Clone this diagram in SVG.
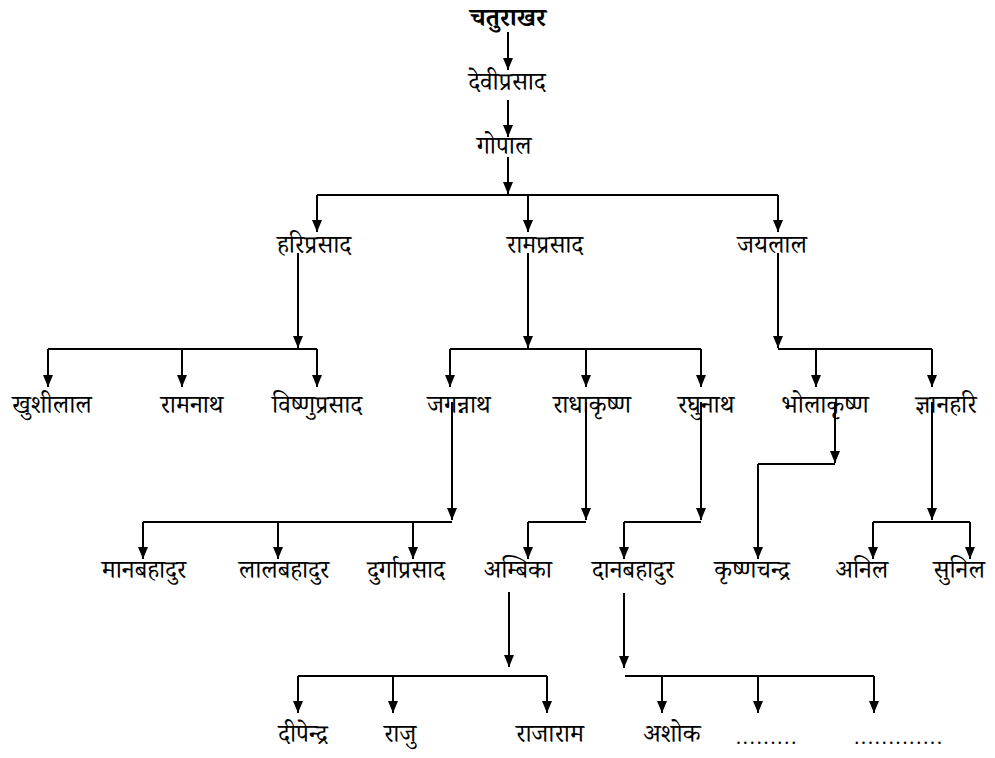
<svg xmlns="http://www.w3.org/2000/svg" width="995" height="758" viewBox="0 0 995 758">
<style>
text{font-family:"Noto Serif Devanagari","Noto Sans Devanagari","Noto Sans","Liberation Serif",serif;font-size:25px;fill:#000;text-anchor:middle}
.b{font-weight:bold}
.d{font-family:"Liberation Serif",serif;font-size:20px;letter-spacing:1.9px}
.c path{fill:none;stroke:#000;stroke-width:2}
.c .a{marker-end:url(#ah)}
</style>
<defs>
<marker id="ah" viewBox="0 0 12 10" markerWidth="12" markerHeight="10" refX="12" refY="5" orient="auto" markerUnits="userSpaceOnUse">
<path d="M0,0 L12,5 L0,10 z" fill="#000"/>
</marker>
</defs>
<rect width="995" height="758" fill="#fff"/>
<g class="c" id="connectors">
<path class="a" d="M508,32 V70"/>
<path class="a" d="M508,100 V137"/>
<path class="a" d="M508,157 V194"/>
<path d="M317,195 H778"/>
<path class="a" d="M317,195 V232"/>
<path class="a" d="M528,195 V232"/>
<path class="a" d="M778,195 V232"/>
<path class="a" d="M298,253 V348"/>
<path d="M48,349 H317"/>
<path class="a" d="M48,349 V387"/>
<path class="a" d="M182,349 V387"/>
<path class="a" d="M317,349 V387"/>
<path class="a" d="M528,253 V348"/>
<path d="M450,349 H701"/>
<path class="a" d="M450,349 V387"/>
<path class="a" d="M586,349 V387"/>
<path class="a" d="M701,349 V387"/>
<path class="a" d="M778,253 V348"/>
<path d="M778,349 H932"/>
<path class="a" d="M816,349 V387"/>
<path class="a" d="M932,349 V387"/>
<path class="a" d="M452,402 V520"/>
<path d="M143,522 H452"/>
<path class="a" d="M143,522 V559"/>
<path class="a" d="M278,522 V559"/>
<path class="a" d="M413,522 V559"/>
<path class="a" d="M586,402 V520"/>
<path d="M528,522 H586"/>
<path class="a" d="M528,522 V559"/>
<path class="a" d="M701,402 V520"/>
<path d="M624,522 H701"/>
<path class="a" d="M624,522 V559"/>
<path class="a" d="M835,402 V463"/>
<path d="M758,464 H835"/>
<path class="a" d="M758,464 V559"/>
<path class="a" d="M932,402 V520"/>
<path d="M873,522 H970"/>
<path class="a" d="M873,522 V559"/>
<path class="a" d="M970,522 V559"/>
<path class="a" d="M509,592 V667"/>
<path d="M298,676 H547"/>
<path class="a" d="M298,676 V713"/>
<path class="a" d="M393,676 V713"/>
<path class="a" d="M547,676 V713"/>
<path class="a" d="M624,593 V668"/>
<path d="M625,676 H874"/>
<path class="a" d="M662,676 V713"/>
<path class="a" d="M758,676 V713"/>
<path class="a" d="M874,676 V713"/>
</g>
<g id="n-chaturakhar"><text class="b" x="508" y="26">चतुराखर</text></g>
<g id="n-deviprasad"><text x="507" y="90">देवीप्रसाद</text></g>
<g id="n-gopal"><text x="504" y="154">गोपाल</text></g>
<g id="n-hariprasad"><text x="314" y="253">हरिप्रसाद</text></g>
<g id="n-ramprasad"><text x="545" y="253">रामप्रसाद</text></g>
<g id="n-jayalal"><text x="772" y="253">जयलाल</text></g>
<g id="n-khushilal"><text x="52" y="413">खुशीलाल</text></g>
<g id="n-ramnath"><text x="192" y="413">रामनाथ</text></g>
<g id="n-vishnuprasad"><text x="317" y="413">विष्णुप्रसाद</text></g>
<g id="n-jagannath"><text x="459" y="413">जगन्नाथ</text></g>
<g id="n-radhakrishna"><text x="592" y="413">राधाकृष्ण</text></g>
<g id="n-raghunath"><text x="706" y="413">रघुनाथ</text></g>
<g id="n-bholakrishna"><text x="825" y="413">भोलाकृष्ण</text></g>
<g id="n-gyanahari"><text x="946" y="413">ज्ञानहरि</text></g>
<g id="n-manbahadur"><text x="144" y="578">मानबहादुर</text></g>
<g id="n-lalbahadur"><text x="284" y="578">लालबहादुर</text></g>
<g id="n-durgaprasad"><text x="406" y="578">दुर्गाप्रसाद</text></g>
<g id="n-ambika"><text x="518" y="578">अम्बिका</text></g>
<g id="n-danbahadur"><text x="633" y="578">दानबहादुर</text></g>
<g id="n-krishnachandra"><text x="752" y="578">कृष्णचन्द्र</text></g>
<g id="n-anil"><text x="862" y="578">अनिल</text></g>
<g id="n-sunil"><text x="959" y="578">सुनिल</text></g>
<g id="n-dipendra"><text x="303" y="742">दीपेन्द्र</text></g>
<g id="n-raju"><text x="400" y="742">राजु</text></g>
<g id="n-rajaram"><text x="550" y="742">राजाराम</text></g>
<g id="n-ashok"><text x="672" y="742">अशोक</text></g>
<g id="n-dots1"><text class="d" x="767" y="744">.........</text></g>
<g id="n-dots2"><text class="d" x="899" y="744">.............</text></g>
</svg>
